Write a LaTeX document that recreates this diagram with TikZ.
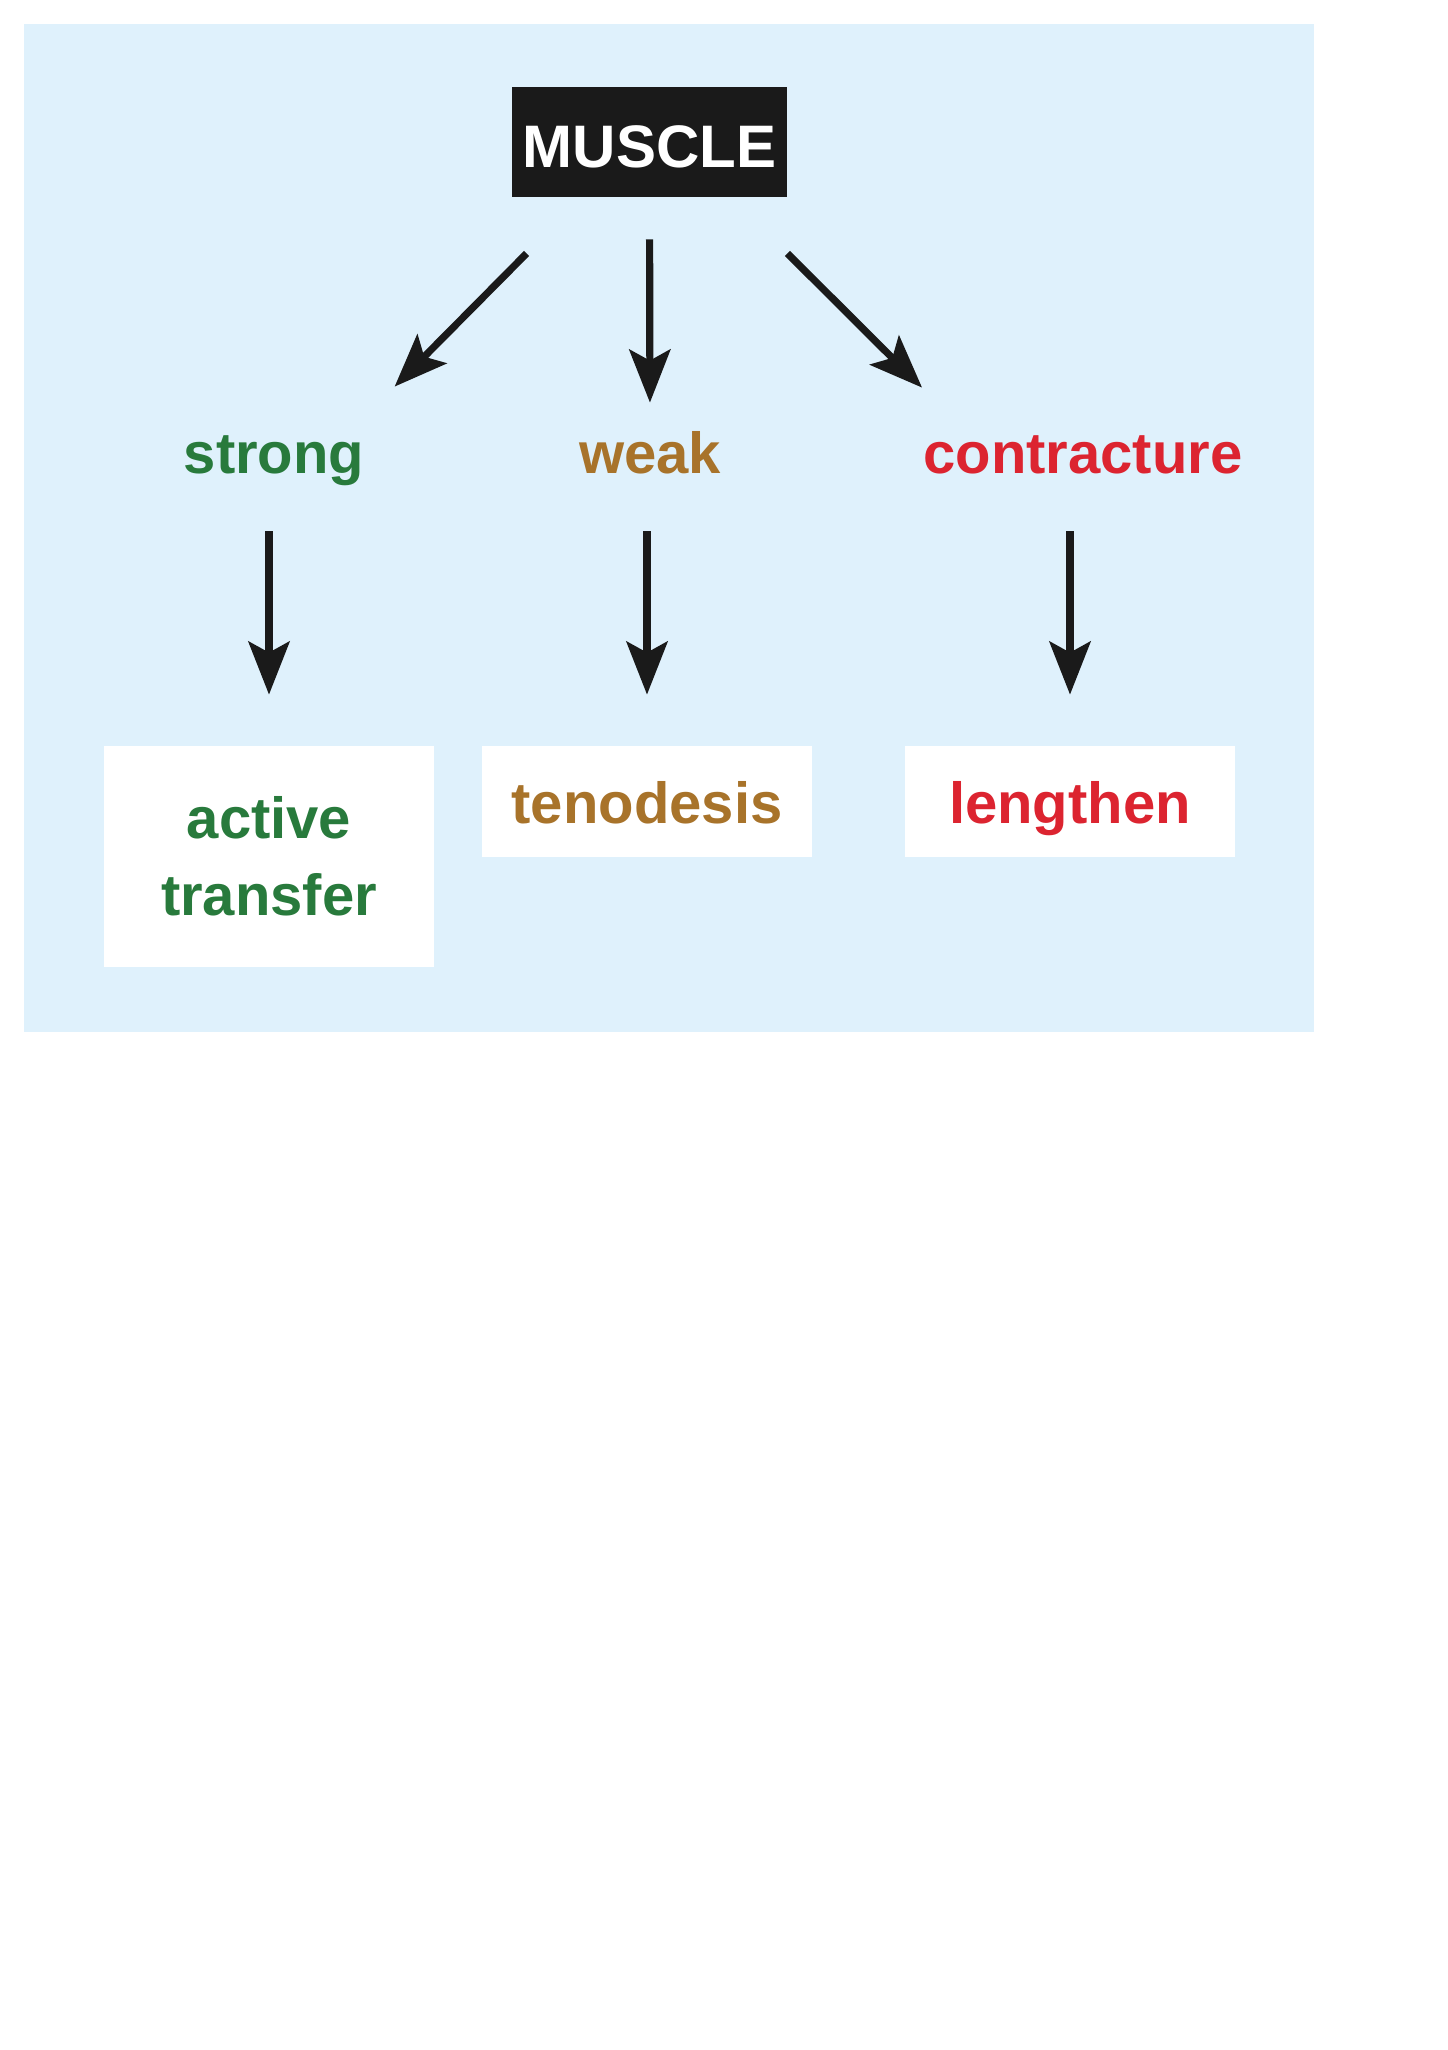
\documentclass[tikz,border=0pt]{standalone}
\usepackage{fontspec}
\setmainfont{Liberation Sans}
\usetikzlibrary{arrows.meta}
\definecolor{panelblue}{RGB}{223,241,252}
\definecolor{strgreen}{RGB}{40,122,60}
\definecolor{wkbrown}{RGB}{168,115,42}
\definecolor{ctred}{RGB}{220,36,48}
\definecolor{inkblack}{RGB}{26,26,26}
\begin{document}
\begin{tikzpicture}[x=0.5pt,y=-0.5pt,
  every node/.style={font=\fontsize{29pt}{38.5pt}\selectfont\bfseries},
  lab/.style={inner sep=0pt, anchor=base, text height=21pt, text depth=6pt},
  wbox/.style={fill=white, inner sep=0pt, minimum width=165pt, minimum height=55.5pt, text height=25pt, text depth=3.5pt},
  arr/.style={draw=inkblack, line width=3.6pt, -{Stealth[length=26.5pt,width=20.5pt,inset=5.5pt]}}
]
\useasboundingbox (0,0) rectangle (1447,2050);
\fill[panelblue] (24,24) rectangle (1314,1032);
\node[fill=inkblack, text=white, inner sep=0pt, minimum width=137.5pt, minimum height=55pt, text height=25.5pt, text depth=0pt, font=\fontsize{30pt}{36pt}\selectfont\bfseries] (muscle) at (649.5,142) {MUSCLE};
\node[lab, text=strgreen] (strong) at (274,473) {strong};
\node[lab, text=wkbrown] (weak) at (650,473) {weak};
\node[lab, text=ctred] (contr) at (1083,473) {contracture};
\node[wbox, text=strgreen, align=center, minimum height=110.5pt, text height=67pt, text depth=8.5pt] (active) at (269,856.5) {active\\transfer};
\node[wbox, text=wkbrown] (tenod) at (647,801.5) {tenodesis};
\node[wbox, text=ctred] (lengthen) at (1070,801.5) {lengthen};
\draw[arr] ([shift={(15,56)}]muscle.south west) -- ([shift={(30,-44)}]strong.north east);
\draw[arr, shorten <=21pt, shorten >=14pt] (muscle.south) -- (weak.north);
\draw[arr] ([shift={(0,56)}]muscle.south east) -- ([shift={(-1,-43)}]contr.north west);
\draw[arr, shorten <=23pt, shorten >=25.5pt] (active.north |- strong.south) -- (active.north);
\draw[arr, shorten <=23pt, shorten >=25.5pt] (tenod.north |- weak.south) -- (tenod.north);
\draw[arr, shorten <=23pt, shorten >=25.5pt] (lengthen.north |- contr.south) -- (lengthen.north);
\end{tikzpicture}
\end{document}
